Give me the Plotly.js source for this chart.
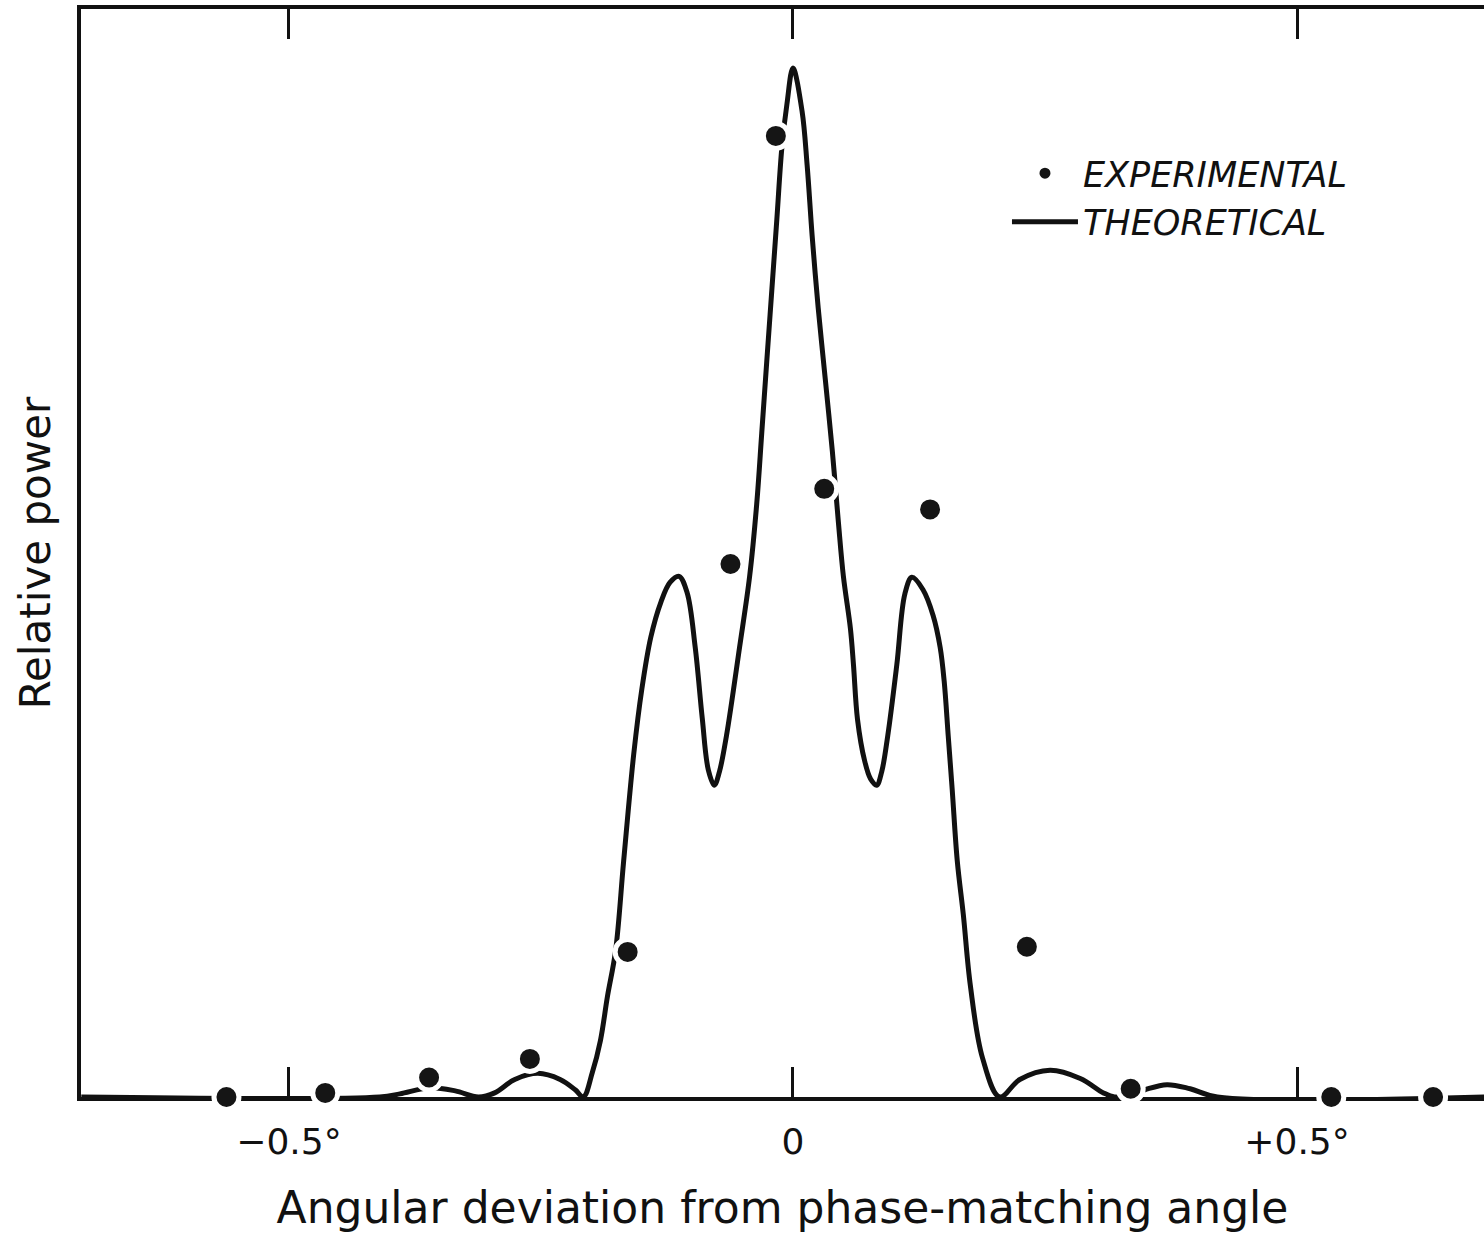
<!DOCTYPE html>
<html>
<head>
<meta charset="utf-8">
<script src="https://cdn.plot.ly/plotly-3.0.1.min.js"></script>
<style>html,body{margin:0;padding:0;background:#fff;}#chart{width:1484px;height:1244px;}</style>
</head>
<body>
<div id="chart"></div>
<script>
// Theoretical curve (angular deviation in degrees, relative power)
const theoryX = [-0.706,-0.410,-0.390,-0.360,-0.335,-0.312,-0.296,-0.276,-0.253,-0.231,-0.216,-0.208,
  -0.199,-0.191,-0.184,-0.176,-0.168,-0.158,-0.150,-0.141,-0.131,-0.122,-0.113,-0.105,-0.097,-0.090,
  -0.084,-0.078,-0.073,-0.066,-0.053,-0.043,-0.036,-0.031,-0.026,-0.021,-0.016,-0.011,-0.006,0.000,
  0.009,0.014,0.019,0.025,0.032,0.039,0.045,0.050,0.057,0.060,0.064,0.071,0.077,0.083,0.088,0.094,
  0.103,0.111,0.118,0.129,0.139,0.146,0.150,0.154,0.158,0.163,0.169,0.176,0.188,0.205,
  0.225,0.255,0.285,0.308,0.319,0.334,0.349,0.371,0.394,0.421,0.686];
const theoryY = [0,0,0.003,0.009,0.006,0,0.004,0.017,0.023,0.017,0.007,0,
  0.024,0.055,0.098,0.142,0.229,0.333,0.396,0.447,0.481,0.500,0.506,0.490,0.437,0.368,
  0.318,0.303,0.316,0.351,0.437,0.506,0.576,0.645,0.715,0.784,0.853,0.923,0.965,1.000,
  0.958,0.906,0.837,0.767,0.698,0.628,0.559,0.506,0.455,0.420,0.367,0.327,0.309,0.303,0.316,0.351,
  0.420,0.489,0.505,0.493,0.468,0.437,0.404,0.351,0.298,0.229,0.177,0.108,0.038,0,
  0.017,0.026,0.018,0.004,0,0.002,0.007,0.012,0.008,0,0];

// Experimental points
const expX = [-0.562,-0.464,-0.361,-0.261,-0.164,-0.062,-0.017,0.031,0.136,0.232,0.335,0.534,0.635];
const expY = [0,0.004,0.019,0.037,0.141,0.518,0.934,0.591,0.571,0.146,0.008,0,0];

// Tick labels
const tickVals = [-0.5, 0, 0.5];
const tickText = ['\u22120.5\u00b0', '0', '+0.5\u00b0'];

const FONT = '"DejaVu Sans", sans-serif';

const traces = [
  {
    x: theoryX, y: theoryY, type: 'scatter', mode: 'lines', name: 'THEORETICAL',
    line: {color: '#111', width: 5, shape: 'spline', smoothing: 1},
    hoverinfo: 'skip'
  },
  {
    x: expX, y: expY, type: 'scatter', mode: 'markers', name: 'EXPERIMENTAL',
    marker: {color: '#151515', size: 25, line: {color: '#fff', width: 5}},
    cliponaxis: false
  }
];

const layout = {
  width: 1484, height: 1244,
  margin: {l: 81, r: 0, t: 9, b: 147},
  paper_bgcolor: '#fff', plot_bgcolor: '#fff',
  font: {family: FONT, color: '#111'},
  showlegend: true,
  legend: {
    x: 0.660, y: 0.876, xanchor: 'left', yanchor: 'top',
    traceorder: 'reversed',
    font: {family: FONT, size: 35, style: 'italic', color: '#111'},
    itemwidth: 66,
    bgcolor: 'rgba(0,0,0,0)'
  },
  xaxis: {
    range: [-0.7063, 0.6855],
    showgrid: false, zeroline: false,
    showline: true, linewidth: 4, linecolor: '#111',
    mirror: 'ticks', ticks: 'inside', ticklen: 30, tickwidth: 3, tickcolor: '#111',
    tickvals: tickVals, ticktext: tickText,
    tickfont: {family: FONT, size: 36, color: '#111'},
    ticklabelstandoff: 10,
    layer: 'below traces',
    title: {text: 'Angular deviation from phase-matching angle',
            font: {family: FONT, size: 44, color: '#111'}, standoff: 32}
  },
  yaxis: {
    range: [0, 1.0573],
    showgrid: false, zeroline: false,
    showline: true, linewidth: 4, linecolor: '#111',
    mirror: false, ticks: '', showticklabels: false,
    layer: 'below traces',
    title: {text: 'Relative power', font: {family: FONT, size: 42, color: '#111'}, standoff: 14}
  }
};

Plotly.newPlot('chart', traces, layout, {displayModeBar: false, staticPlot: true});
</script>
</body>
</html>
